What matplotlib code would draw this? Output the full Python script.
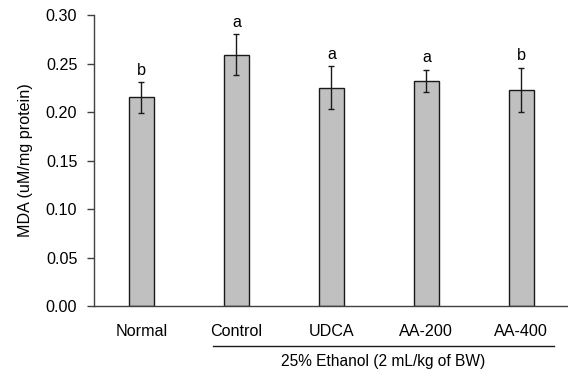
import matplotlib.pyplot as plt
import numpy as np

plt.rcParams['font.family'] = ['Liberation Sans', 'DejaVu Sans']

groups = ['Normal', 'Control', 'UDCA', 'AA-200', 'AA-400']
mda = [0.215, 0.259, 0.225, 0.232, 0.223]
err = [0.0155, 0.021, 0.022, 0.011, 0.0225]
letters = ['b', 'a', 'a', 'a', 'b']
y_ticks = [0.00, 0.05, 0.10, 0.15, 0.20, 0.25, 0.30]

FS = 11.6

fig = plt.figure(figsize=(5.68, 3.74), dpi=100)
ax = fig.add_axes([0.1655, 0.1818, 0.836, 0.778])

x = np.arange(len(groups))
ax.bar(x, mda, width=0.27, color='#c0c0c0', edgecolor='#1a1a1a', linewidth=1.0, zorder=2)
ax.errorbar(x, mda, yerr=err, fmt='none', ecolor='#1a1a1a', elinewidth=1.0,
            capsize=2.5, capthick=1.0, zorder=3)
for xi, m, e, lab in zip(x, mda, err, letters):
    ax.text(xi, m + e + 0.005, lab, ha='center', va='bottom', fontsize=FS)

ax.set_xlim(-0.5, 4.5)
ax.set_ylim(0, 0.30)
ax.set_yticks(y_ticks)
ax.set_yticklabels(['%.2f' % t for t in y_ticks], fontsize=FS)
ax.set_xticks(x)
ax.set_xticklabels(groups, fontsize=FS)
ax.tick_params(axis='x', length=0, pad=13)
ax.tick_params(axis='y', length=5, width=1, color='#404040', pad=7)
ax.set_ylabel('MDA (uM/mg protein)', fontsize=FS, labelpad=9)

for s in ['top', 'right']:
    ax.spines[s].set_visible(False)
for s in ['left', 'bottom']:
    ax.spines[s].set_color('#404040')
    ax.spines[s].set_linewidth(1.0)

# bracket for ethanol-treated groups
trans = ax.get_xaxis_transform()
ax.plot([0.75, 4.34], [-0.136, -0.136], color='#1a1a1a', lw=1.0,
        transform=trans, clip_on=False)
ax.text(2.545, -0.19, '25% Ethanol (2 mL/kg of BW)', ha='center', va='center',
        fontsize=11.2, transform=trans)

fig.savefig('out.png', dpi=100)
